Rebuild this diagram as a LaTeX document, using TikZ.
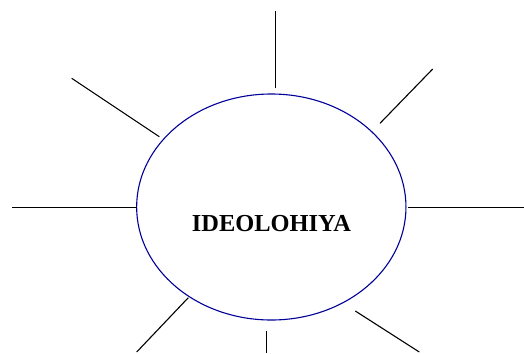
\documentclass[tikz,border=0pt]{standalone}
\usepackage{fontspec}
\setmainfont{Liberation Serif}
\usetikzlibrary{shapes.geometric}

\begin{document}
\begin{tikzpicture}[x=1bp, y=-1bp,
    ray/.style={draw=black, line width=1.1bp},
    bubble/.style={ellipse, draw=blue!60!black, line width=1.1bp,
        minimum width=269.3bp, minimum height=226bp, inner sep=0pt}]
    \useasboundingbox (0,0) rectangle (524,353);

    % Ellisse centrale
    \node[bubble] (idea) at (271.3,207) {};
    \node[anchor=base, font=\bfseries\fontsize{24.5}{28}\selectfont] (title) at (271.5,231.5) {IDEOLOHIYA};

    % Estremi dei raggi (interno / esterno)
    \coordinate (topin) at (275.3,88.3);      \coordinate (topout) at (275.3,10.7);
    \coordinate (urin) at (380,123.3);        \coordinate (urout) at (432.7,69);
    \coordinate (rin) at (408,207.3);         \coordinate (rout) at (524,207.3);
    \coordinate (lrin) at (355.3,311);        \coordinate (lrout) at (419.3,352);
    \coordinate (botin) at (266.3,331);       \coordinate (botout) at (266.3,353);
    \coordinate (llin) at (188.3,297.7);      \coordinate (llout) at (136.7,352);
    \coordinate (lin) at (136.7,207.3);       \coordinate (lout) at (11.7,207.3);
    \coordinate (ulin) at (159.3,136.7);      \coordinate (ulout) at (71.7,78.3);

    % Raggi
    \foreach \r in {top,ur,r,lr,bot,ll,l,ul}
        \draw[ray] (\r in) -- (\r out);

\end{tikzpicture}
\end{document}
